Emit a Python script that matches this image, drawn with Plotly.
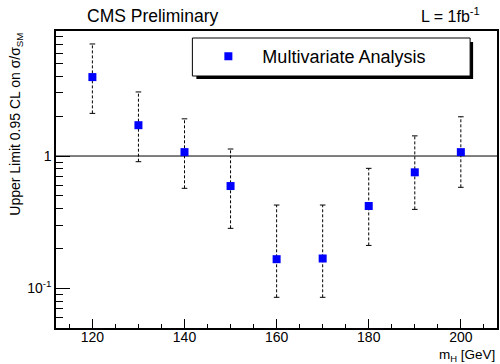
import plotly.graph_objects as go

mass = [120, 130, 140, 150, 160, 170, 180, 190, 200]
limit = [3.95, 1.71, 1.07, 0.593, 0.166, 0.168, 0.419, 0.753, 1.07]
upper = [7.03, 3.05, 1.91, 1.13, 0.426, 0.426, 0.807, 1.42, 1.98]
lower = [2.10, 0.906, 0.57, 0.284, 0.0855, 0.0855, 0.211, 0.395, 0.58]

x_ticks = [120, 140, 160, 180, 200]
y_ticks = [0.1, 1]
y_ticktext = ["10<sup>-1</sup>", "1"]
y_minor = [0.05, 0.06, 0.07, 0.08, 0.09, 0.2, 0.3, 0.4, 0.5, 0.6, 0.7, 0.8, 0.9,
           2, 3, 4, 5, 6, 7, 8]

FONT = "Liberation Sans, Arial, Helvetica, sans-serif"

# dashed error bars
ex, ey = [], []
for m, lo, hi in zip(mass, lower, upper):
    ex += [m, m, None]
    ey += [lo, hi, None]

fig = go.Figure()
fig.add_trace(go.Scatter(x=ex, y=ey, mode="lines",
                         line=dict(color="black", width=1, dash="3px,2px"),
                         showlegend=False, hoverinfo="skip"))
fig.add_trace(go.Scatter(x=mass + mass, y=lower + upper, mode="markers",
                         marker=dict(symbol="line-ew", size=4,
                                     line=dict(color="black", width=1)),
                         showlegend=False, hoverinfo="skip"))
fig.add_trace(go.Scatter(x=mass, y=limit, mode="markers",
                         name="Multivariate Analysis",
                         marker=dict(symbol="square", size=8, color="#0000ff",
                                     line=dict(width=0))))

# legend box with ROOT-style shadow
fig.add_shape(type="rect", xref="paper", yref="paper",
              x0=(197 - 56) / 443, x1=(475 - 56) / 443,
              y0=(328 - 79) / 297, y1=(328 - 42) / 297,
              fillcolor="black", line=dict(width=0), layer="above")
fig.add_shape(type="rect", xref="paper", yref="paper",
              x0=(193 - 56) / 443, x1=(472 - 56) / 443,
              y0=(328 - 76) / 297, y1=(328 - 38) / 297,
              fillcolor="white", line=dict(color="black", width=1), layer="above")

fig.add_shape(type="line", xref="paper", yref="y", x0=0, x1=1, y0=1, y1=1,
              line=dict(color="black", width=1), layer="below")

fig.add_annotation(text="CMS Preliminary", xref="paper", yref="paper",
                   x=(153 - 56) / 443, y=(328 - 16) / 297, showarrow=False,
                   xanchor="center", yanchor="middle",
                   font=dict(size=17.5, color="black", family=FONT))
fig.add_annotation(text="L = 1fb<sup>-1</sup>", xref="paper", yref="paper",
                   x=(484 - 56) / 443, y=(328 - 15) / 297, showarrow=False,
                   xanchor="right", yanchor="middle",
                   font=dict(size=16, color="black", family=FONT))
fig.add_annotation(text="Upper Limit 0.95 CL on σ/σ<sub>SM</sub>",
                   xref="paper", yref="paper", textangle=-90,
                   x=(15 - 56) / 443, y=(328 - 31) / 297, showarrow=False,
                   xanchor="center", yanchor="top",
                   font=dict(size=14, color="black", family=FONT))
fig.add_annotation(text="m<sub>H</sub> [GeV]", xref="paper", yref="paper",
                   x=1, y=(328 - 355) / 297, showarrow=False,
                   xanchor="right", yanchor="middle",
                   font=dict(size=13.5, color="black", family=FONT))

fig.update_xaxes(range=[112.1, 207.85], tickvals=x_ticks, ticks="inside",
                 ticklen=9, tickwidth=1, tickcolor="black",
                 minor=dict(dtick=5, tick0=0, ticks="inside", ticklen=4,
                            tickcolor="black", tickwidth=1),
                 showline=True, linecolor="black", linewidth=1.5, mirror=True,
                 showgrid=False, zeroline=False, ticklabelstandoff=-5,
                 tickfont=dict(size=14, color="black", family=FONT))
fig.update_yaxes(type="log", range=[-1.30, 0.945], tickvals=y_ticks,
                 ticktext=y_ticktext, ticks="inside", ticklen=14, tickwidth=1,
                 tickcolor="black",
                 minor=dict(tickvals=y_minor, ticks="inside", ticklen=7,
                            tickcolor="black", tickwidth=1),
                 showline=True, linecolor="black", linewidth=1.5, mirror=True,
                 showgrid=False, zeroline=False,
                 tickfont=dict(size=14, color="black", family=FONT))

fig.update_layout(width=500, height=364,
                  margin=dict(l=56, r=1, t=31, b=36),
                  paper_bgcolor="white", plot_bgcolor="white",
                  font=dict(family=FONT, color="black"),
                  legend=dict(x=(195 - 56) / 443, y=(328 - 38) / 297,
                              xanchor="left", yanchor="top",
                              bgcolor="rgba(0,0,0,0)", borderwidth=0,
                              font=dict(size=18, color="black", family=FONT),
                              itemwidth=58))

fig.write_html("out.html", config={"displayModeBar": False},
               post_script="document.body.style.margin='0';document.body.style.padding='0';")
